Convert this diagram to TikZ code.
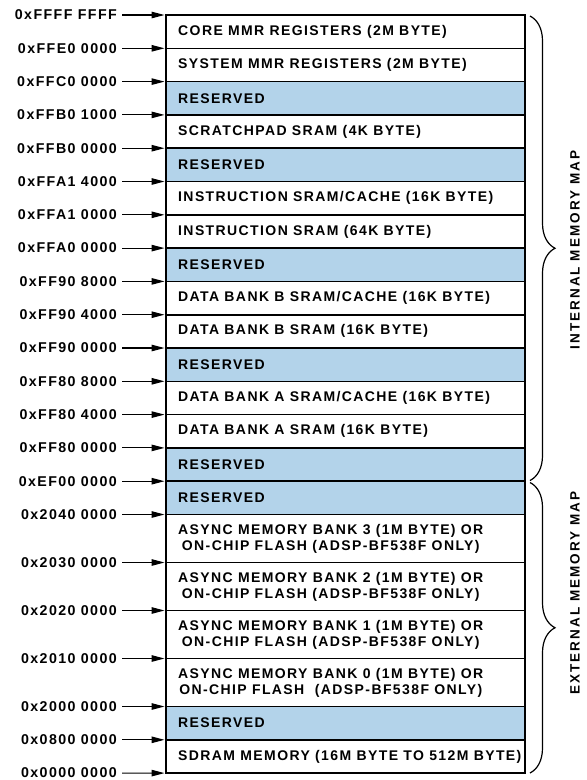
\documentclass[tikz,border=0pt]{standalone}
\usepackage{fontspec}
\newfontfamily\mapfont{Liberation Sans}[LetterSpace=10]
\newfontfamily\bracefont{Liberation Sans}[LetterSpace=15]
\usetikzlibrary{arrows.meta,positioning,decorations.pathreplacing}
\definecolor{rsvblue}{HTML}{B3D3EA}
\tikzset{
  cell/.style={draw, line width=1.6pt, minimum width=359pt, minimum height=33.3pt,
    anchor=north west, inner sep=0pt, outer sep=0pt},
  tallcell/.style={cell, minimum height=48pt},
  rsvcell/.style={cell, fill=rsvblue},
  celltext/.style={font=\mapfont\bfseries\fontsize{14}{16}\selectfont, align=center, inner sep=0pt},
  addr/.style={font=\mapfont\bfseries\fontsize{14.2}{16}\selectfont, anchor=east, inner sep=0pt},
  ptr/.style={-{Triangle[length=13pt,width=6.5pt]}, line width=1.1pt, shorten <=5pt, shorten >=1.5pt},
  mapbrace/.style={decorate, decoration={brace, amplitude=25pt}, line width=1.2pt},
  maplabel/.style={font=\bracefont\bfseries\fontsize{13.5}{15}\selectfont, rotate=90, inner sep=0pt}
}
\begin{document}
\begin{tikzpicture}[x=1pt,y=-1pt]
% page size of the reference
\useasboundingbox (0,0) rectangle (587,780);

% Internal memory rows
\node [cell] (core) at (166,15) {};%
\node [celltext, right=12pt of core.west] (coretxt) {CORE MMR REGISTERS (2M BYTE)};%
\node [cell] (sysmmr) at (166,48.3) {};%
\node [celltext, right=12pt of sysmmr.west] (sysmmrtxt) {SYSTEM MMR REGISTERS (2M BYTE)};%
\node [rsvcell] (rsvA) at (166,81.6) {};%
\node [celltext, right=12pt of rsvA.west] (rsvAtxt) {RESERVED};%
\node [cell] (scratch) at (166,114.9) {};%
\node [celltext, right=12pt of scratch.west] (scratchtxt) {SCRATCHPAD SRAM (4K BYTE)};%
\node [rsvcell] (rsvB) at (166,148.2) {};%
\node [celltext, right=12pt of rsvB.west] (rsvBtxt) {RESERVED};%
\node [cell] (icache) at (166,181.5) {};%
\node [celltext, right=12pt of icache.west] (icachetxt) {INSTRUCTION SRAM/CACHE (16K BYTE)};%
\node [cell] (isram) at (166,214.8) {};%
\node [celltext, right=12pt of isram.west] (isramtxt) {INSTRUCTION SRAM (64K BYTE)};%
\node [rsvcell] (rsvC) at (166,248.1) {};%
\node [celltext, right=12pt of rsvC.west] (rsvCtxt) {RESERVED};%
\node [cell] (dbcache) at (166,281.4) {};%
\node [celltext, right=12pt of dbcache.west] (dbcachetxt) {DATA BANK B SRAM/CACHE (16K BYTE)};%
\node [cell] (dbsram) at (166,314.7) {};%
\node [celltext, right=12pt of dbsram.west] (dbsramtxt) {DATA BANK B SRAM (16K BYTE)};%
\node [rsvcell] (rsvD) at (166,348) {};%
\node [celltext, right=12pt of rsvD.west] (rsvDtxt) {RESERVED};%
\node [cell] (dacache) at (166,381.3) {};%
\node [celltext, right=12pt of dacache.west] (dacachetxt) {DATA BANK A SRAM/CACHE (16K BYTE)};%
\node [cell] (dasram) at (166,414.6) {};%
\node [celltext, right=12pt of dasram.west] (dasramtxt) {DATA BANK A SRAM (16K BYTE)};%
\node [rsvcell] (rsvE) at (166,447.9) {};%
\node [celltext, right=12pt of rsvE.west] (rsvEtxt) {RESERVED};%

% External memory rows
\node [rsvcell] (rsvF) at (166,481.2) {};%
\node [celltext, right=12pt of rsvF.west] (rsvFtxt) {RESERVED};%
\node [tallcell] (bank3) at (166,514.5) {};%
\node [celltext, right=12pt of bank3.west] (bank3txt) {ASYNC MEMORY BANK 3 (1M BYTE) OR\\ON-CHIP FLASH (ADSP-BF538F ONLY)};%
\node [tallcell] (bank2) at (166,562.5) {};%
\node [celltext, right=12pt of bank2.west] (bank2txt) {ASYNC MEMORY BANK 2 (1M BYTE) OR\\ON-CHIP FLASH (ADSP-BF538F ONLY)};%
\node [tallcell] (bank1) at (166,610.5) {};%
\node [celltext, right=12pt of bank1.west] (bank1txt) {ASYNC MEMORY BANK 1 (1M BYTE) OR\\ON-CHIP FLASH (ADSP-BF538F ONLY)};%
\node [tallcell] (bank0) at (166,658.5) {};%
\node [celltext, right=12pt of bank0.west] (bank0txt) {ASYNC MEMORY BANK 0 (1M BYTE) OR\\ON-CHIP FLASH\ \ (ADSP-BF538F ONLY)};%
\node [rsvcell] (rsvG) at (166,706.5) {};%
\node [celltext, right=12pt of rsvG.west] (rsvGtxt) {RESERVED};%
\node [cell] (sdram) at (166,739.8) {};%
\node [celltext, right=12pt of sdram.west] (sdramtxt) {SDRAM MEMORY (16M BYTE TO 512M BYTE)};%

% Address labels and pointers
\node [addr] (aFFFFFFFF) at (117,15) {0xFFFF FFFF};%
\draw [ptr] (aFFFFFFFF) -- (core.north west);%
\node [addr] (aFFE00000) at (117,48.3) {0xFFE0 0000};%
\draw [ptr] (aFFE00000) -- (sysmmr.north west);%
\node [addr] (aFFC00000) at (117,81.6) {0xFFC0 0000};%
\draw [ptr] (aFFC00000) -- (rsvA.north west);%
\node [addr] (aFFB01000) at (117,114.9) {0xFFB0 1000};%
\draw [ptr] (aFFB01000) -- (scratch.north west);%
\node [addr] (aFFB00000) at (117,148.2) {0xFFB0 0000};%
\draw [ptr] (aFFB00000) -- (rsvB.north west);%
\node [addr] (aFFA14000) at (117,181.5) {0xFFA1 4000};%
\draw [ptr] (aFFA14000) -- (icache.north west);%
\node [addr] (aFFA10000) at (117,214.8) {0xFFA1 0000};%
\draw [ptr] (aFFA10000) -- (isram.north west);%
\node [addr] (aFFA00000) at (117,248.1) {0xFFA0 0000};%
\draw [ptr] (aFFA00000) -- (rsvC.north west);%
\node [addr] (aFF908000) at (117,281.4) {0xFF90 8000};%
\draw [ptr] (aFF908000) -- (dbcache.north west);%
\node [addr] (aFF904000) at (117,314.7) {0xFF90 4000};%
\draw [ptr] (aFF904000) -- (dbsram.north west);%
\node [addr] (aFF900000) at (117,348) {0xFF90 0000};%
\draw [ptr] (aFF900000) -- (rsvD.north west);%
\node [addr] (aFF808000) at (117,381.3) {0xFF80 8000};%
\draw [ptr] (aFF808000) -- (dacache.north west);%
\node [addr] (aFF804000) at (117,414.6) {0xFF80 4000};%
\draw [ptr] (aFF804000) -- (dasram.north west);%
\node [addr] (aFF800000) at (117,447.9) {0xFF80 0000};%
\draw [ptr] (aFF800000) -- (rsvE.north west);%
\node [addr] (aEF000000) at (117,481.2) {0xEF00 0000};%
\draw [ptr] (aEF000000) -- (rsvF.north west);%
\node [addr] (a20400000) at (117,514.5) {0x2040 0000};%
\draw [ptr] (a20400000) -- (bank3.north west);%
\node [addr] (a20300000) at (117,562.5) {0x2030 0000};%
\draw [ptr] (a20300000) -- (bank2.north west);%
\node [addr] (a20200000) at (117,610.5) {0x2020 0000};%
\draw [ptr] (a20200000) -- (bank1.north west);%
\node [addr] (a20100000) at (117,658.5) {0x2010 0000};%
\draw [ptr] (a20100000) -- (bank0.north west);%
\node [addr] (a20000000) at (117,706.5) {0x2000 0000};%
\draw [ptr] (a20000000) -- (rsvG.north west);%
\node [addr] (a08000000) at (117,739.8) {0x0800 0000};%
\draw [ptr] (a08000000) -- (sdram.north west);%
\node [addr] (a00000000) at (117,773.1) {0x0000 0000};%
\draw [ptr] (a00000000) -- (sdram.south west);%

% Braces and map names
\coordinate (intTop) at (530,16);%
\coordinate (intBot) at (530,480.5);%
\draw [mapbrace] (intTop) -- (intBot);%
\node [maplabel] (intlab) at (575,250) {INTERNAL MEMORY MAP};%
\coordinate (extTop) at (530,482.5);%
\coordinate (extBot) at (530,773);%
\draw [mapbrace] (extTop) -- (extBot);%
\node [maplabel] (extlab) at (575,593) {EXTERNAL MEMORY MAP};%
\end{tikzpicture}
\end{document}
